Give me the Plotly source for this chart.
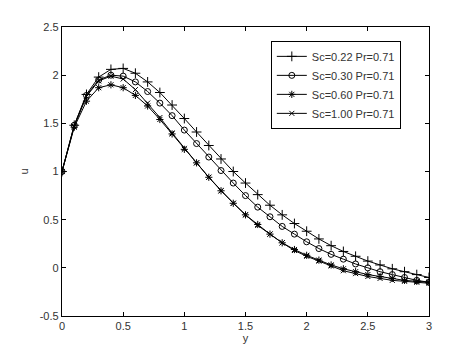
import plotly.graph_objects as go

y_vals = [round(0.1 * i, 1) for i in range(31)]

u_sc022 = [1.00, 1.48, 1.80, 1.98, 2.06, 2.07, 2.02, 1.93, 1.82, 1.69, 1.55,
           1.41, 1.27, 1.13, 1.00, 0.88, 0.76, 0.65, 0.55, 0.46, 0.38,
           0.30, 0.23, 0.17, 0.12, 0.07, 0.03, -0.01, -0.04, -0.07, -0.10]
u_sc030 = [1.00, 1.48, 1.79, 1.95, 2.00, 1.99, 1.93, 1.83, 1.71, 1.58, 1.43,
           1.29, 1.15, 1.01, 0.88, 0.75, 0.63, 0.53, 0.43, 0.35, 0.27,
           0.20, 0.14, 0.09, 0.04, 0.00, -0.04, -0.07, -0.10, -0.13, -0.15]
u_sc060 = [1.00, 1.46, 1.73, 1.87, 1.90, 1.87, 1.79, 1.68, 1.54, 1.39, 1.23,
           1.09, 0.94, 0.80, 0.67, 0.55, 0.45, 0.35, 0.26, 0.19, 0.13,
           0.08, 0.03, -0.01, -0.04, -0.07, -0.09, -0.11, -0.13, -0.14, -0.15]
u_sc100 = [1.00, 1.47, 1.78, 1.94, 1.99, 1.96, 1.85, 1.71, 1.56, 1.40, 1.24,
           1.09, 0.94, 0.80, 0.67, 0.55, 0.44, 0.35, 0.26, 0.18, 0.12,
           0.07, 0.02, -0.03, -0.06, -0.09, -0.11, -0.13, -0.14, -0.15, -0.16]

names = ["Sc=0.22 Pr=0.71", "Sc=0.30 Pr=0.71", "Sc=0.60 Pr=0.71", "Sc=1.00 Pr=0.71"]
series = [u_sc022, u_sc030, u_sc060, u_sc100]
symbols = ["cross-thin", "circle-open", "asterisk", "x-thin"]
sizes = [7, 6, 6, 5]

x_ticks = [0, 0.5, 1, 1.5, 2, 2.5, 3]
x_ticklabels = ["0", "0.5", "1", "1.5", "2", "2.5", "3"]
y_ticks = [-0.5, 0, 0.5, 1, 1.5, 2, 2.5]
y_ticklabels = ["-0.5", "0", "0.5", "1", "1.5", "2", "2.5"]

FONT = "Liberation Sans, Arial"
TXT = "#333333"

fig = go.Figure()
for name, vals, sym, sz in zip(names, series, symbols, sizes):
    fig.add_trace(go.Scatter(
        x=y_vals, y=vals, mode="lines+markers", name=name,
        line=dict(color="black", width=1),
        marker=dict(symbol=sym, size=sz, color="black",
                    line=dict(color="black", width=1)),
    ))

axis_common = dict(
    showline=True, linecolor="black", linewidth=1.3, mirror="allticks",
    ticks="inside", ticklen=4, tickcolor="black", showgrid=False,
    zeroline=False, tickfont=dict(family=FONT, size=11, color=TXT),
)

fig.update_layout(
    width=474, height=355,
    margin=dict(l=54, r=53, t=19, b=47),
    paper_bgcolor="white", plot_bgcolor="white",
    showlegend=True,
    legend=dict(x=0.569, y=0.952, xanchor="left", yanchor="top",
                bordercolor="black", borderwidth=1, bgcolor="white",
                font=dict(family=FONT, size=11, color=TXT),
                tracegroupgap=0, itemwidth=30),
    xaxis=dict(range=[0, 3], tickvals=x_ticks, ticktext=x_ticklabels,
               title=dict(text="y", standoff=2, font=dict(family=FONT, size=11, color=TXT)),
               **axis_common),
    yaxis=dict(range=[-0.5, 2.5], tickvals=y_ticks, ticktext=y_ticklabels,
               title=dict(text="u", standoff=8, font=dict(family=FONT, size=11, color=TXT)),
               **axis_common),
)

fig.write_html("out.html")
